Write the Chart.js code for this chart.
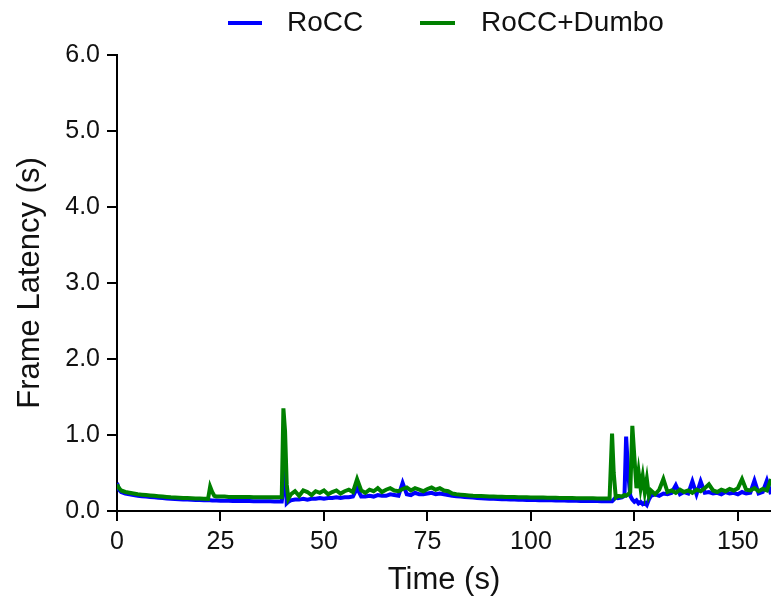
<!DOCTYPE html>
<html>
<head>
<meta charset="utf-8">
<script src="https://cdn.jsdelivr.net/npm/chart.js@4.4.0/dist/chart.umd.min.js"></script>
<style>
  body { margin: 0; background: #fff; }
  #wrap { position: relative; width: 771px; height: 605px; font-family: "Liberation Sans", Arial, sans-serif; }
  .leg { position: absolute; top: 7px; font-size: 28px; line-height: 30px; color: #111; white-space: nowrap; }
  .leg i { position: absolute; top: 14px; height: 4px; }
</style>
</head>
<body>
<div id="wrap">
  <canvas id="latencyChart" width="771" height="605"></canvas>
  <div class="leg" style="left:228px"><i style="left:0;width:34px;background:#0000ff"></i><span style="margin-left:59px">RoCC</span></div>
  <div class="leg" style="left:420px"><i style="left:0;width:35px;background:#008000"></i><span style="margin-left:61px">RoCC+Dumbo</span></div>
</div>
<script>
// time stamps (s), shared by both series
const timeSec = [
  0, 0.5, 1, 2, 3, 4, 5, 6, 7, 8,
  9, 10, 11, 12, 13, 14, 15, 16, 17, 18,
  19, 20, 21, 22, 22.5, 23, 23.5, 24, 25, 26,
  27, 28, 29, 30, 31, 32, 33, 34, 35, 36,
  37, 38, 39, 39.8, 40.2, 40.6, 41, 41.4, 42, 43,
  44, 45, 46, 47, 48, 49, 50, 51, 52, 53,
  54, 55, 56, 57, 58, 59, 60, 61, 62, 63,
  64, 65, 66, 67, 68, 69, 70, 71, 72, 73,
  74, 75, 76, 77, 78, 79, 80, 81, 82, 83,
  84, 85, 86, 87, 88, 89, 90, 91, 92, 93,
  94, 95, 96, 97, 98, 99, 100, 101, 102, 103,
  104, 105, 106, 107, 108, 109, 110, 111, 112, 113,
  114, 115, 116, 117, 118, 119, 119.6, 120, 120.5, 121,
  122, 122.6, 123, 123.5, 124, 124.5, 125, 125.5, 126, 126.5,
  127, 127.5, 128, 128.5, 129, 130, 131, 132, 133, 134,
  135, 136, 137, 138, 139, 140, 141, 142, 143, 144,
  145, 146, 147, 148, 149, 150, 151, 152, 153, 154,
  155, 156, 157, 158
];

// RoCC frame latency (s)
const roccLatency = [
  0.37, 0.28, 0.25, 0.23, 0.22, 0.21, 0.2, 0.195, 0.19, 0.185,
  0.18, 0.175, 0.17, 0.166, 0.162, 0.158, 0.155, 0.152, 0.15, 0.148,
  0.146, 0.144, 0.142, 0.14, 0.14, 0.138, 0.138, 0.137, 0.136, 0.135,
  0.134, 0.133, 0.132, 0.131, 0.13, 0.13, 0.129, 0.128, 0.128, 0.127,
  0.127, 0.126, 0.126, 0.126, 0.3, 0.7, 0.1, 0.12, 0.14, 0.15,
  0.15, 0.16, 0.15, 0.16, 0.16, 0.17, 0.16, 0.17, 0.17, 0.18,
  0.17, 0.18, 0.18, 0.19, 0.3, 0.19, 0.19, 0.2, 0.19, 0.21,
  0.2, 0.2, 0.22, 0.21, 0.2, 0.37, 0.22, 0.21, 0.24, 0.22,
  0.22, 0.23, 0.24, 0.22, 0.23, 0.22, 0.21, 0.2, 0.195, 0.19,
  0.185, 0.18, 0.176, 0.172, 0.168, 0.165, 0.162, 0.16, 0.158, 0.156,
  0.154, 0.152, 0.15, 0.148, 0.147, 0.146, 0.145, 0.144, 0.143, 0.142,
  0.141, 0.14, 0.139, 0.138, 0.137, 0.136, 0.135, 0.134, 0.133, 0.132,
  0.131, 0.13, 0.13, 0.129, 0.128, 0.128, 0.128, 0.15, 0.18, 0.17,
  0.18, 0.2, 0.98, 0.5, 0.2, 0.15, 0.12, 0.14, 0.1, 0.12,
  0.09, 0.11, 0.08, 0.15, 0.2, 0.22, 0.2, 0.23, 0.22, 0.24,
  0.34, 0.22, 0.25, 0.23, 0.39, 0.22, 0.39, 0.24, 0.25, 0.23,
  0.24, 0.22, 0.25, 0.23, 0.24, 0.22, 0.25, 0.23, 0.24, 0.4,
  0.23, 0.25, 0.4, 0.22
];

// RoCC+Dumbo frame latency (s)
const dumboLatency = [
  0.35, 0.3, 0.27, 0.25, 0.24, 0.23, 0.22, 0.215, 0.21, 0.205,
  0.2, 0.195, 0.19, 0.185, 0.18, 0.178, 0.175, 0.172, 0.17, 0.168,
  0.166, 0.164, 0.162, 0.16, 0.32, 0.25, 0.2, 0.19, 0.19, 0.19,
  0.185, 0.185, 0.184, 0.184, 0.183, 0.183, 0.182, 0.182, 0.181, 0.181,
  0.18, 0.18, 0.18, 0.18, 1.35, 1.05, 0.35, 0.16, 0.22, 0.26,
  0.2, 0.27, 0.25, 0.21, 0.26, 0.24, 0.27, 0.22, 0.25, 0.27,
  0.23, 0.26, 0.28, 0.25, 0.42, 0.27, 0.24, 0.28, 0.26, 0.3,
  0.25, 0.28, 0.3, 0.27, 0.26, 0.29, 0.31, 0.27, 0.3, 0.28,
  0.26, 0.29, 0.31, 0.28, 0.3, 0.27, 0.26, 0.23, 0.22, 0.215,
  0.21, 0.205, 0.2, 0.198, 0.196, 0.194, 0.192, 0.19, 0.188, 0.186,
  0.185, 0.184, 0.183, 0.182, 0.181, 0.18, 0.179, 0.178, 0.177, 0.176,
  0.175, 0.174, 0.173, 0.172, 0.171, 0.17, 0.17, 0.169, 0.168, 0.168,
  0.167, 0.167, 0.166, 0.166, 0.165, 0.165, 1.02, 0.5, 0.18, 0.2,
  0.19, 0.21, 0.2, 0.22, 0.25, 1.12, 0.7, 0.3, 0.52, 0.3,
  0.46, 0.25, 0.42, 0.2, 0.27, 0.22, 0.28, 0.42, 0.25, 0.27,
  0.24, 0.28, 0.25, 0.27, 0.24, 0.28, 0.26, 0.3, 0.35, 0.27,
  0.25, 0.28, 0.26, 0.29, 0.27, 0.3, 0.42, 0.28, 0.27, 0.3,
  0.26, 0.29, 0.27, 0.42
];

const xTickValues = [0, 25, 50, 75, 100, 125, 150];
const yTickValues = [0, 1, 2, 3, 4, 5, 6];

const toPoints = (ys) => ys.map((y, i) => ({ x: timeSec[i], y: y }));

const axisFont = { family: '"Liberation Sans", Arial, sans-serif', size: 25 };
const titleFont = { family: '"Liberation Sans", Arial, sans-serif', size: 31 };

const ctx = document.getElementById('latencyChart').getContext('2d');
const latencyChart = new Chart(ctx, {
    type: 'line',
    data: {
        datasets: [{
            label: 'RoCC',
            data: toPoints(roccLatency),
            borderColor: '#0000ff',
            borderWidth: 4,
            order: 2,
        }, {
            label: 'RoCC+Dumbo',
            data: toPoints(dumboLatency),
            borderColor: '#008000',
            borderWidth: 4,
            order: 1,
        }]
    },
    options: {
        responsive: false,
        devicePixelRatio: 1,
        animation: false,
        elements: { point: { radius: 0 }, line: { tension: 0 } },
        layout: { padding: { top: 55, right: 0, left: 0, bottom: 0 } },
        plugins: {
            legend: { display: false },
            tooltip: { enabled: false },
        },
        scales: {
            x: {
                type: 'linear',
                min: 0,
                max: 158,
                afterBuildTicks: (scale) => { scale.ticks = xTickValues.map(v => ({ value: v })); },
                afterFit: (scale) => { scale.height = 94; },
                border: { display: true, color: '#000', width: 2 },
                grid: { display: true, drawOnChartArea: false, drawTicks: true, tickLength: 10, color: '#000', lineWidth: 2 },
                ticks: { color: '#111', font: axisFont, padding: 6, maxRotation: 0 },
                title: { display: true, text: 'Time (s)', color: '#111', font: titleFont, padding: { top: 0, bottom: 6 } },
            },
            y: {
                min: 0,
                max: 6,
                afterBuildTicks: (scale) => { scale.ticks = yTickValues.map(v => ({ value: v })); },
                afterFit: (scale) => { scale.width = 117; },
                border: { display: true, color: '#000', width: 2 },
                grid: { display: true, drawOnChartArea: false, drawTicks: true, tickLength: 10, color: '#000', lineWidth: 2 },
                ticks: { color: '#111', font: axisFont, padding: 7, callback: (v) => v.toFixed(1) },
                title: { display: true, text: 'Frame Latency (s)', color: '#111', font: titleFont, padding: { top: 12, bottom: 0 } },
            }
        }
    }
});
</script>
</body>
</html>
